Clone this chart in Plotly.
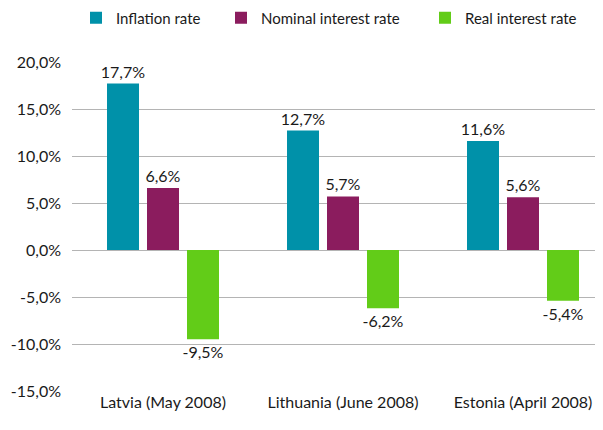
import plotly.graph_objects as go

categories = ["Latvia (May 2008)", "Lithuania (June 2008)", "Estonia (April 2008)"]
series_names = ["Inflation rate", "Nominal interest rate", "Real interest rate"]
inflation = [17.7, 12.7, 11.6]
nominal = [6.6, 5.7, 5.6]
real = [-9.5, -6.2, -5.4]
y_tick_vals = [-15, -10, -5, 0, 5, 10, 15, 20]
y_tick_text = ["-15,0%", "-10,0%", "-5,0%", "0,0%", "5,0%", "10,0%", "15,0%", "20,0%"]
colors = ["#0091A9", "#8B1C5E", "#62CC18"]

FONT = "Lato, sans-serif"
W, H = 595, 422   # page body has an 8px margin
legend_px = [82, 227, 431]  # left of legend boxes (figure px)

fig = go.Figure()
legend_ids = ["legend", "legend2", "legend3"]
for name, vals, col, lg in zip(series_names, [inflation, nominal, real], colors, legend_ids):
    fig.add_trace(go.Bar(
        name=name, x=categories, y=vals, marker=dict(color=col, line=dict(width=0)),
        text=[f"{v:.1f}".replace(".", ",") + "%" for v in vals],
        textposition="outside", constraintext="none",
        textfont=dict(size=16, color="#1a1a1a", family=FONT),
        cliponaxis=False, legend=lg,
    ))

legend_common = dict(orientation="h", xref="container", yref="container",
                     xanchor="left", yanchor="middle", y=1 - 10 / H,
                     font=dict(size=15, family=FONT, color="#1a1a1a"),
                     bgcolor="rgba(0,0,0,0)", borderwidth=0)

fig.update_layout(
    width=W, height=H,
    margin=dict(l=64, r=6, t=54, b=39, autoexpand=False),
    paper_bgcolor="white", plot_bgcolor="white",
    barmode="group", bargap=1/3, bargroupgap=0.2,
    separators=",.",
    font=dict(family=FONT, size=16, color="#1a1a1a"),
    showlegend=True,
    legend=dict(x=(legend_px[0] - 14) / W, **legend_common),
    legend2=dict(x=(legend_px[1] - 14) / W, **legend_common),
    legend3=dict(x=(legend_px[2] - 14) / W, **legend_common),
    xaxis=dict(type="category", range=[-0.5056, 2.4111], showgrid=False, showline=False,
               ticks="", tickfont=dict(size=16), zeroline=False, automargin=False),
    yaxis=dict(range=[-15, 20], tickmode="array", tickvals=y_tick_vals, ticktext=y_tick_text,
               showgrid=True, gridcolor="#B4B4B4", gridwidth=1, zeroline=True,
               zerolinecolor="#B4B4B4", zerolinewidth=1, showline=False, ticks="",
               ticklabelstandoff=10, tickfont=dict(size=16), automargin=False),
)

fig.write_html("out.html")
